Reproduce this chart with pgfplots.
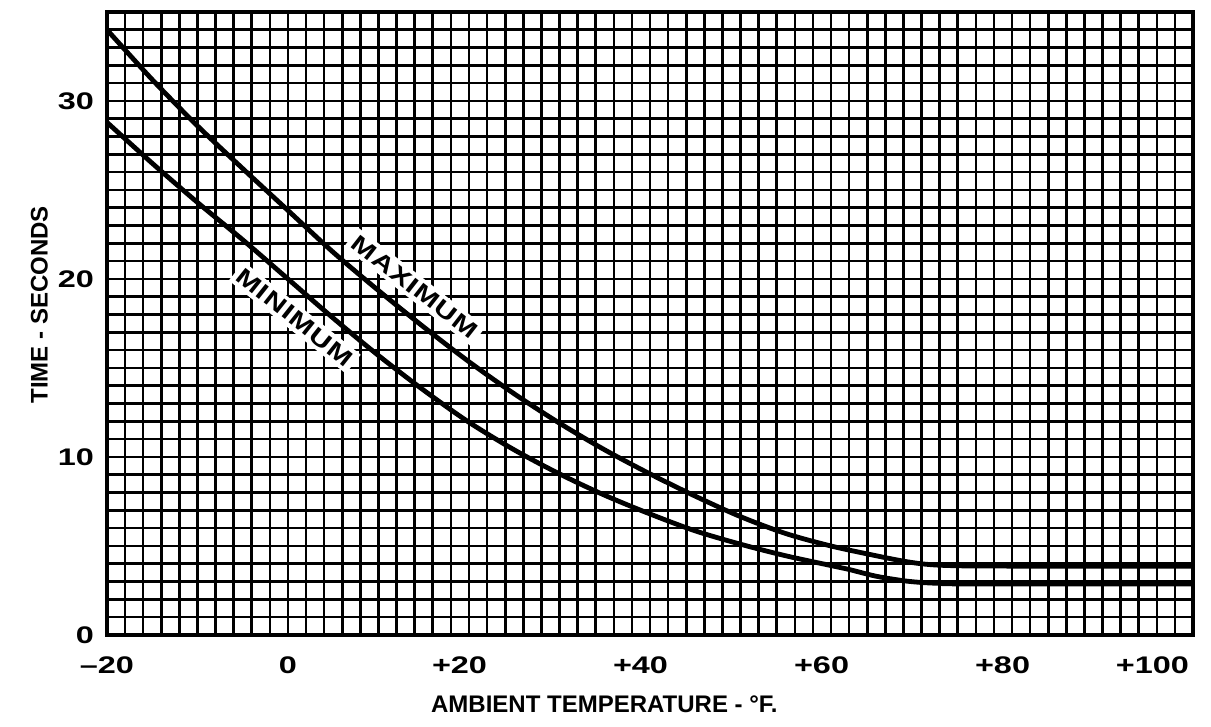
\documentclass[border=0pt]{standalone}
\usepackage{fontspec}
\setmainfont{Liberation Sans}
\newfontfamily\wide{Liberation Sans}[FakeStretch=1.35, Ligatures=TeX]
\newfontfamily\lbl{Liberation Sans}[FakeStretch=1.3, LetterSpace=5]
\usepackage{pgfplots}
\pgfplotsset{compat=1.18}

\pgfplotstableread{
T t
-20 34.0
-15 31.2
-10 28.6
-5 26.2
0 23.85
5 21.5
10 19.35
15 17.3
20 15.35
25 13.55
30 11.9
35 10.4
40 9.05
45 7.8
50 6.65
55 5.7
60 5.0
65 4.45
68 4.15
70 4.0
72 3.92
75 3.88
80 3.87
90 3.87
100 3.87
}\maxdata

\pgfplotstableread{
T t
-20 28.8
-15 26.5
-10 24.3
-5 22.2
0 20.0
5 17.8
10 15.7
15 13.75
20 11.95
25 10.4
30 9.05
35 7.85
40 6.8
45 5.85
50 5.1
55 4.45
60 3.9
62 3.68
65 3.3
68 3.05
70 2.95
72 2.9
75 2.87
100 2.87
}\mindata

\begin{document}
\begin{tikzpicture}
\begin{axis}[
  name=ax,
  scale only axis,
  width=543pt, height=311.5pt,
  xmin=-20, xmax=100, ymin=0, ymax=35,
  xtick={-20,0,20,40,60,80},
  xticklabels={–20,0,\llap{+}20,\llap{+}40,\llap{+}60,\llap{+}80},
  extra x ticks={100},
  extra x tick labels={+100},
  extra x tick style={grid=none, xticklabel style={anchor=north east, xshift=1.5pt}},
  ytick={0,10,20,30},
  minor xtick={-20,-18,...,100},
  minor ytick={0,1,...,35},
  grid=both,
  major grid style={black, line width=1.3pt},
  minor grid style={black, line width=1.3pt},
  major tick length=0pt, minor tick length=0pt,
  axis line style={line width=2.2pt, line cap=rect},
  ticklabel style={font=\wide\bfseries\fontsize{12}{12}\selectfont},
  xticklabel style={yshift=-7.5pt},
  yticklabel style={xshift=-3pt},
  /pgf/number format/assume math mode=true,
  xlabel={AMBIENT TEMPERATURE - °F.},
  ylabel={TIME - SECONDS},
  label style={font=\bfseries\fontsize{12}{12}\selectfont},
  xlabel style={at={(ticklabel cs:0.458)}, anchor=north, inner sep=0pt, yshift=-7.5pt},
  ylabel style={at={(ticklabel cs:0.53)}, anchor=south, inner sep=0pt, yshift=1.5pt},
]
\addplot[black, line width=2.4pt, smooth, tension=0.5] table[x=T, y=t] {\maxdata};
\addplot[black, line width=2.4pt, smooth, tension=0.5] table[x=T, y=t] {\mindata};
\node[rotate=-38, fill=white, inner sep=2pt,
      font=\lbl\bfseries\fontsize{11.5}{11.5}\selectfont]
      at (axis cs:14,19.55) {MAXIMUM};
\node[rotate=-38.5, fill=white, inner sep=2pt,
      font=\lbl\bfseries\fontsize{11.5}{11.5}\selectfont]
      at (axis cs:0.75,17.83) {MINIMUM};
\end{axis}
\pgfresetboundingbox
\path[use as bounding box] ([xshift=-53.5pt,yshift=-46pt]ax.south west) rectangle ([xshift=9pt,yshift=6pt]ax.north east);
\end{tikzpicture}
\end{document}
